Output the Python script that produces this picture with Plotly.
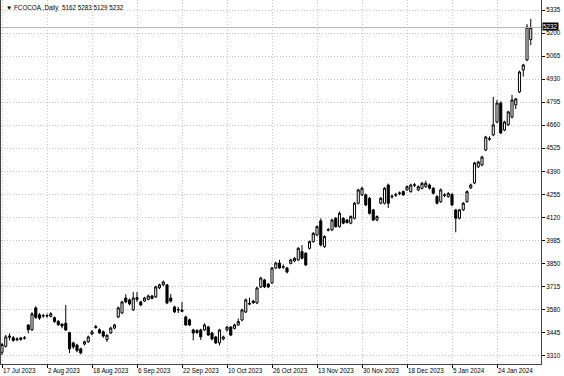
import pandas as pd
import plotly.graph_objects as go

# ---- data -------------------------------------------------------------
holidays = ["2023-09-04", "2023-11-23", "2023-12-25", "2024-01-01", "2024-01-15"]

opens = [3330, 3365, 3418, 3415, 3403, 3405, 3412, 3490, 3462, 3590,
         3550, 3542, 3545, 3540, 3533, 3512, 3495, 3500, 3445, 3385,
         3372, 3350, 3378, 3392, 3437, 3475, 3462, 3450, 3405, 3443,
         3472, 3537, 3560, 3648, 3637, 3578, 3640, 3625, 3630, 3640,
         3660, 3654, 3708, 3725, 3725, 3648, 3596, 3578, 3578, 3537,
         3520, 3461, 3458, 3461, 3461, 3478, 3443, 3420, 3385, 3408,
         3460, 3478, 3470, 3490, 3519, 3566, 3612, 3630, 3619, 3713,
         3754, 3730, 3736, 3824, 3853, 3828, 3824, 3851, 3865, 3871,
         3920, 3910, 3939, 3978, 4017, 4100, 3949, 4045, 4047, 4115,
         4066, 4115, 4105, 4086, 4115, 4203, 4252, 4252, 4232, 4164,
         4105, 4203, 4203, 4310, 4240, 4250, 4260, 4271, 4281, 4271,
         4308, 4281, 4290, 4300, 4310, 4291, 4242, 4213, 4248, 4242,
         4255, 4164, 4115, 4164, 4213, 4293, 4322, 4416, 4427, 4515,
         4578, 4603, 4679, 4790, 4632, 4662, 4708, 4779, 4855, 4984,
         5042, 5162]
highs = [3385, 3432, 3440, 3425, 3418, 3420, 3425, 3495, 3565, 3600,
         3560, 3556, 3557, 3565, 3540, 3518, 3500, 3607, 3450, 3392,
         3380, 3357, 3398, 3428, 3460, 3490, 3470, 3458, 3435, 3480,
         3497, 3598, 3632, 3670, 3645, 3683, 3683, 3632, 3655, 3668,
         3665, 3720, 3732, 3750, 3730, 3672, 3603, 3596, 3625, 3545,
         3527, 3468, 3465, 3468, 3500, 3485, 3450, 3426, 3467, 3428,
         3485, 3484, 3497, 3528, 3585, 3645, 3650, 3637, 3714, 3772,
         3760, 3736, 3830, 3860, 3872, 3845, 3830, 3878, 3888, 3946,
         3958, 3917, 3985, 4034, 4073, 4115, 4015, 4058, 4112, 4122,
         4155, 4122, 4110, 4132, 4210, 4288, 4300, 4260, 4240, 4170,
         4132, 4240, 4298, 4318, 4255, 4265, 4272, 4278, 4308, 4318,
         4322, 4308, 4328, 4335, 4318, 4297, 4250, 4290, 4262, 4268,
         4262, 4170, 4170, 4210, 4278, 4318, 4446, 4452, 4481, 4598,
         4595, 4826, 4808, 4800, 4686, 4745, 4838, 4820, 4980, 5020,
         5252, 5283]
lows = [3314, 3358, 3400, 3392, 3395, 3398, 3405, 3440, 3455, 3525,
        3520, 3532, 3533, 3535, 3503, 3485, 3470, 3455, 3326, 3350,
        3330, 3318, 3370, 3385, 3430, 3468, 3438, 3415, 3390, 3438,
        3465, 3530, 3555, 3618, 3605, 3572, 3625, 3600, 3625, 3635,
        3640, 3648, 3700, 3718, 3612, 3622, 3560, 3560, 3565, 3485,
        3484, 3400, 3438, 3402, 3455, 3425, 3400, 3378, 3370, 3400,
        3452, 3425, 3464, 3485, 3512, 3560, 3605, 3614, 3612, 3706,
        3706, 3706, 3730, 3818, 3818, 3818, 3792, 3845, 3858, 3865,
        3874, 3835, 3932, 3972, 4010, 3950, 3942, 4038, 4040, 4060,
        4060, 4080, 4084, 4080, 4108, 4196, 4245, 4186, 4137, 4098,
        4098, 4196, 4196, 4175, 4230, 4240, 4250, 4246, 4275, 4265,
        4298, 4274, 4284, 4294, 4284, 4255, 4196, 4205, 4238, 4236,
        4186, 4033, 4108, 4158, 4206, 4287, 4315, 4410, 4420, 4508,
        4568, 4596, 4672, 4608, 4625, 4655, 4700, 4755, 4848, 4945,
        5035, 5129]
closes = [3375, 3420, 3425, 3400, 3407, 3414, 3414, 3462, 3555, 3535,
          3530, 3545, 3543, 3556, 3510, 3492, 3484, 3461, 3350, 3362,
          3340, 3326, 3392, 3420, 3450, 3480, 3443, 3425, 3430, 3472,
          3490, 3590, 3625, 3625, 3613, 3648, 3650, 3607, 3648, 3660,
          3645, 3713, 3725, 3742, 3619, 3630, 3567, 3580, 3570, 3490,
          3490, 3443, 3445, 3420, 3490, 3431, 3408, 3385, 3461, 3420,
          3478, 3431, 3490, 3510, 3578, 3637, 3616, 3620, 3707, 3765,
          3713, 3713, 3824, 3853, 3824, 3832, 3800, 3871, 3880, 3939,
          3881, 3842, 3978, 4027, 4066, 3959, 4008, 4048, 4105, 4066,
          4144, 4086, 4090, 4125, 4203, 4281, 4291, 4193, 4144, 4105,
          4125, 4232, 4291, 4203, 4244, 4254, 4263, 4252, 4300, 4310,
          4311, 4300, 4320, 4320, 4291, 4261, 4203, 4281, 4251, 4261,
          4193, 4115, 4164, 4203, 4271, 4310, 4439, 4445, 4474, 4591,
          4582, 4662, 4790, 4615, 4679, 4738, 4808, 4814, 4972, 5013,
          5235, 5232]

price_ticks = [3310, 3445, 3580, 3715, 3850, 3985, 4120, 4255, 4390,
               4525, 4660, 4795, 4930, 5065, 5200, 5335]
label_step = 12
symbol_title = "FCOCOA.,Daily"

# ---- build ------------------------------------------------------------
dates = pd.bdate_range("2023-07-17", periods=len(opens), freq="C", holidays=holidays)
xcat = [d.strftime("%Y-%m-%d") for d in dates]
label_idx = list(range(0, len(dates), label_step))
label_txt = [f"{dates[i].day} {dates[i].strftime('%b %Y')}" for i in label_idx]

font_name = "Liberation Sans"
grid_col = "#c4c4c4"

fig = go.Figure()
fig.add_trace(go.Candlestick(
    x=xcat, open=opens, high=highs, low=lows, close=closes,
    increasing=dict(line=dict(color="#000000", width=1), fillcolor="#ffffff"),
    decreasing=dict(line=dict(color="#000000", width=1), fillcolor="#000000"),
    whiskerwidth=0, showlegend=False, hoverinfo="skip",
))

last_close = closes[-1]
fig.add_shape(type="line", xref="paper", x0=0, x1=1, yref="y",
              y0=last_close, y1=last_close,
              line=dict(color="#b4b4b4", width=1))

annotations = []
for i, t in zip(label_idx, label_txt):
    annotations.append(dict(x=i, y=0, xref="x", yref="paper", text=t,
                            showarrow=False, xanchor="left", yanchor="top",
                            xshift=-1, yshift=-1,
                            font=dict(family=font_name, size=6.3, color="#000000")))
annotations.append(dict(x=1, y=last_close, xref="paper", yref="y",
                        text=f"{last_close}", showarrow=False,
                        xanchor="left", yanchor="middle", xshift=1, yshift=1,
                        bgcolor="#000000", borderpad=0,
                        font=dict(family=font_name, size=6.3, color="#ffffff")))
annotations.append(dict(x=0, y=1, xref="paper", yref="paper",
                        text=f"\u25bc {symbol_title}  {opens[-1]} {highs[-1]} {lows[-1]} {closes[-1]}",
                        showarrow=False, xanchor="left", yanchor="top",
                        xshift=3, yshift=-2,
                        font=dict(family=font_name, size=6.3, color="#000000")))

fig.update_layout(
    width=564, height=376,
    margin=dict(l=1, r=23, t=0, b=12),
    paper_bgcolor="#ffffff", plot_bgcolor="#ffffff",
    boxgap=0.2,
    annotations=annotations,
    xaxis=dict(
        type="category", range=[-0.27, len(opens) + 1.73],
        rangeslider=dict(visible=False),
        tickvals=[xcat[i] for i in label_idx], showticklabels=False,
        ticks="outside", ticklen=3, tickcolor="#000000",
        showgrid=True, gridcolor=grid_col, griddash="1px,2px", gridwidth=1,
        showline=True, linecolor="#444444", linewidth=1, mirror=True,
        zeroline=False,
    ),
    yaxis=dict(
        side="right", range=[3261.4, 5393.6],
        tickvals=price_ticks, ticktext=[str(v) for v in price_ticks],
        ticks="outside", ticklen=3, tickcolor="#000000",
        tickfont=dict(family=font_name, size=6.3, color="#000000"),
        showgrid=True, gridcolor=grid_col, griddash="1px,2px", gridwidth=1,
        showline=True, linecolor="#444444", linewidth=1, mirror=True,
        zeroline=False,
    ),
)

fig.write_html("out.html")
